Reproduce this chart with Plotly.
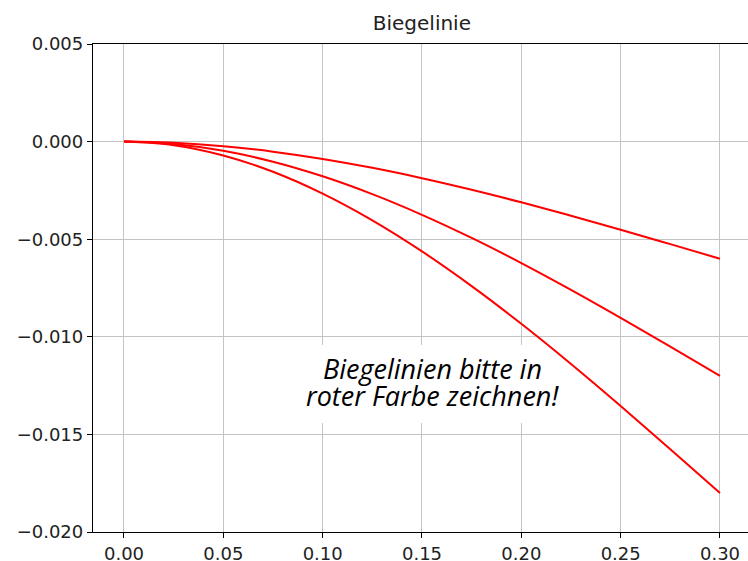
import plotly.graph_objects as go

x_pos = [0.0, 0.025, 0.05, 0.075, 0.10, 0.125, 0.15, 0.175, 0.20, 0.225, 0.25, 0.275, 0.30]
w_top = [0.0, -0.000061, -0.000236, -0.000516, -0.000889, -0.001345, -0.001875,
         -0.002467, -0.003111, -0.003797, -0.004514, -0.005252, -0.006]
w_mid = [0.0, -0.000121, -0.000472, -0.001031, -0.001778, -0.002691, -0.00375,
         -0.004934, -0.006222, -0.007594, -0.009028, -0.010503, -0.012]
w_bot = [0.0, -0.000182, -0.000708, -0.001547, -0.002667, -0.004036, -0.005625,
         -0.007401, -0.009333, -0.011391, -0.013542, -0.015755, -0.018]

x_ticks = [0.0, 0.05, 0.10, 0.15, 0.20, 0.25, 0.30]
x_labels = ["0.00", "0.05", "0.10", "0.15", "0.20", "0.25", "0.30"]
y_ticks = [0.005, 0.0, -0.005, -0.010, -0.015, -0.020]
y_labels = ["0.005", "0.000", "\u22120.005", "\u22120.010", "\u22120.015", "\u22120.020"]

note_lines = ["Biegelinien bitte in", "roter Farbe zeichnen!"]
note_y = [-0.01160, -0.01303]

fig = go.Figure()
for w in (w_top, w_mid, w_bot):
    fig.add_trace(go.Scatter(x=x_pos, y=w, mode="lines",
                             line=dict(color="#ff0000", width=2, shape="spline"),
                             showlegend=False, hoverinfo="skip"))

# white background behind the note (covers grid lines)
fig.add_shape(type="rect", xref="x", yref="y", x0=0.088, x1=0.21,
              y0=-0.01441, y1=-0.010415, fillcolor="white", line=dict(width=0),
              layer="above")
for txt, yy in zip(note_lines, note_y):
    fig.add_annotation(x=0.1555, y=yy, xref="x", yref="y",
                       text="<i>" + txt + "</i>", showarrow=False,
                       xanchor="center", yanchor="middle",
                       font=dict(family="Open Sans", size=27, color="black"))

axis_common = dict(showgrid=True, gridcolor="#c4c4c4", gridwidth=1.3, automargin=False,
                   zeroline=False, showline=True, linecolor="black", linewidth=1.3,
                   ticks="outside", ticklen=5, tickwidth=1.3, tickcolor="black",
                   tickfont=dict(family="DejaVu Sans", size=18, color="#222222"))

fig.update_xaxes(range=[-0.0156, 0.3141], tickvals=x_ticks, ticktext=x_labels,
                 mirror=True, **axis_common)
fig.update_yaxes(range=[-0.020, 0.005], tickvals=y_ticks, ticktext=y_labels,
                 mirror=False, **axis_common)

fig.update_layout(
    width=748, height=561,
    margin=dict(l=93, r=0, t=44, b=29),
    paper_bgcolor="white", plot_bgcolor="white",
    title=dict(text="Biegelinie", x=0.564, xanchor="center", y=0.959, yanchor="middle",
               font=dict(family="DejaVu Sans", size=20, color="#222222")),
)

fig.write_html("out.html",
               config={"displayModeBar": False},
               post_script="document.body.style.margin='0';document.body.style.overflow='hidden';")
